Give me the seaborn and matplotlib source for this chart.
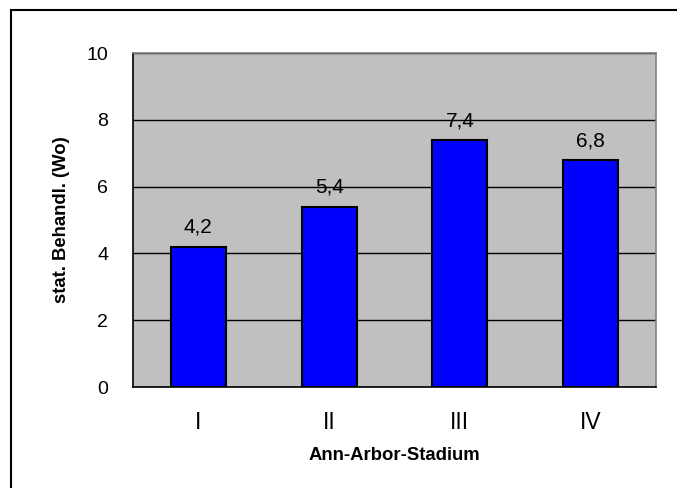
import matplotlib
matplotlib.use("Agg")
import matplotlib.pyplot as plt
from matplotlib.patches import Rectangle
from matplotlib.ticker import FixedLocator
import seaborn as sns
import pandas as pd

# Mean inpatient treatment time (weeks) per Ann Arbor stage
stages = ["I", "II", "III", "IV"]
weeks = [4.2, 5.4, 7.4, 6.8]
y_ticks = [0, 2, 4, 6, 8, 10]

sns.set_style("white")
plt.rcParams["font.family"] = ["Liberation Sans", "DejaVu Sans"]
plt.rcParams["text.color"] = "black"
plt.rcParams["axes.labelcolor"] = "black"
plt.rcParams["xtick.color"] = "black"
plt.rcParams["ytick.color"] = "black"

df = pd.DataFrame({"Stadium": stages, "Wochen": weeks})

W, H = 677, 488
fig = plt.figure(figsize=(W / 100, H / 100), dpi=100)
ax = fig.add_axes([133 / W, 1 - 387 / H, (656 - 133) / W, (387 - 53) / H])

ax.set_facecolor("#C0C0C0")
ax.set_axisbelow(True)
ax.yaxis.grid(True, color="black", linewidth=1.0)
ax.xaxis.grid(False)

sns.barplot(data=df, x="Stadium", y="Wochen", order=stages, color="#0000FF",
            saturation=1, edgecolor="black", linewidth=1.5, width=0.42, ax=ax)

ax.set_xlim(-0.5, len(stages) - 0.5)
ax.set_ylim(0, 10)
ax.set_yticks(y_ticks)
ax.set_yticklabels([str(t) for t in y_ticks], fontsize=14)

# category labels centred, tick marks on category boundaries
ax.set_xticks(range(len(stages)))
ax.set_xticklabels(stages, fontsize=16.5)
ax.xaxis.set_minor_locator(FixedLocator([i - 0.5 for i in range(len(stages) + 1)]))
ax.tick_params(axis="x", which="major", length=0, pad=17)
ax.tick_params(axis="x", which="minor", length=6, width=1, color="black", direction="out")
ax.tick_params(axis="y", length=6, width=1, color="black", direction="out", pad=12)

for side in ("left", "bottom"):
    ax.spines[side].set_color("black")
    ax.spines[side].set_linewidth(1.2)
for side in ("top", "right"):
    ax.spines[side].set_color("#808080")
    ax.spines[side].set_linewidth(1.2)

ax.set_xlabel("Ann-Arbor-Stadium", fontsize=13.3, fontweight="bold", labelpad=10)
ax.set_ylabel("stat. Behandl. (Wo)", fontsize=13.3, fontweight="bold", labelpad=12)

labels = [f"{v:.1f}".replace(".", ",") for v in weeks]
ax.bar_label(ax.containers[0], labels=labels, padding=7, fontsize=15)

# chart frame
fig.add_artist(Rectangle((11 / W, -0.05), 1.0, 1 - 10 / H + 0.05,
                         transform=fig.transFigure, fill=False,
                         edgecolor="black", linewidth=1.5))

fig.savefig("out.png", dpi=100)
